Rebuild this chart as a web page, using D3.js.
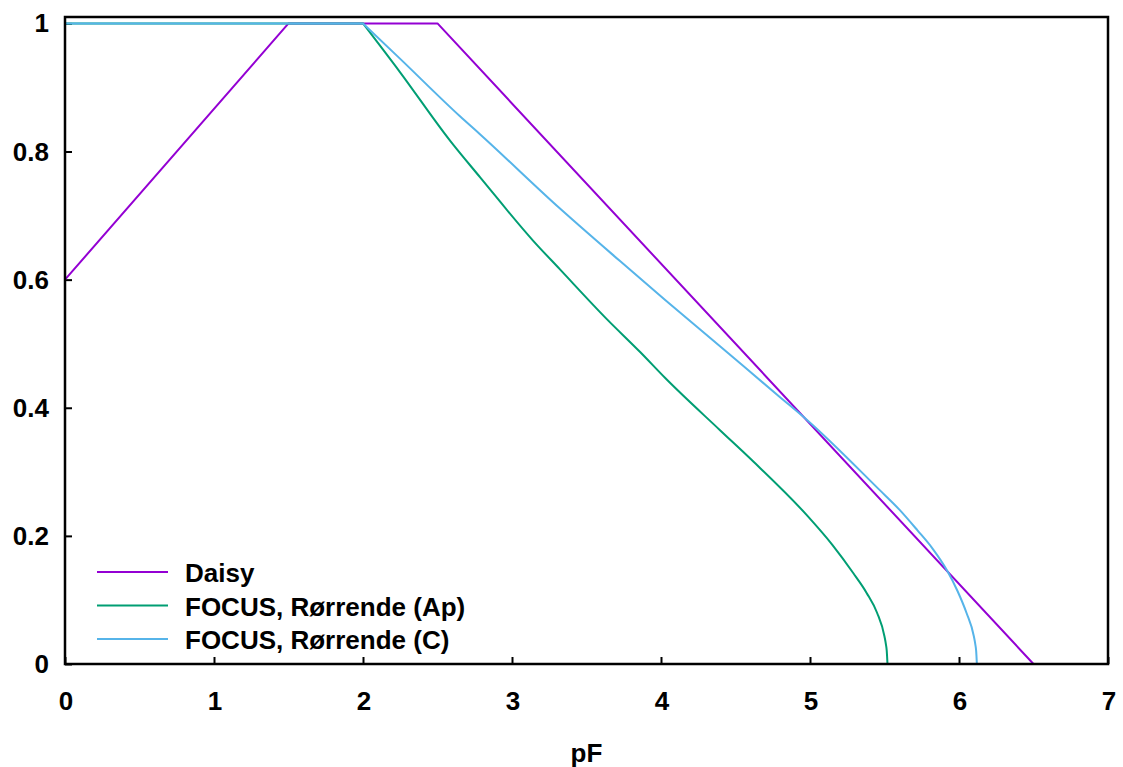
<!DOCTYPE html>
<html lang="en">
	<head>
		<meta charset="utf-8">
		<title>pF reduction curves</title>
		<script type="text/javascript" src="https://cdn.jsdelivr.net/npm/d3@7"></script>
		<style type="text/css">
			body { margin: 0; background: #fff; }
			text { font-family: "Liberation Sans", Arial, sans-serif; font-weight: bold; }
		</style>
	</head>
	<body>
		<script type="text/javascript">
			//Data
			var seriesNames = ["Daisy", "FOCUS, Rørrende (Ap)", "FOCUS, Rørrende (C)"];
			var seriesColors = ["#9400d3", "#009e73", "#56b4e9"];

			var daisyPF  = [0, 1.5, 2.5, 6.5];
			var daisyVal = [0.6, 1, 1, 0];

			//first two points are the flat part, the rest is the curve
			var apPF  = [0, 2.0, 2.248, 2.584, 2.785, 3.141, 3.322, 3.638, 3.86, 4.03, 4.396, 4.611, 4.98, 5.15, 5.29, 5.38, 5.45, 5.50, 5.51, 5.515, 5.52];
			var apVal = [1, 1.0, 0.924, 0.817, 0.760, 0.661, 0.616, 0.538, 0.487, 0.446, 0.365, 0.318, 0.232, 0.186, 0.142, 0.111, 0.080, 0.043, 0.030, 0.021, 0];

			var cPF  = [0, 2.0, 2.248, 2.651, 2.785, 3.322, 3.725, 4.03, 4.396, 4.799, 4.98, 5.47, 5.60, 5.72, 5.82, 5.92, 5.99, 6.05, 6.10, 6.11, 6.115, 6.12];
			var cVal = [1, 1.0, 0.945, 0.855, 0.827, 0.711, 0.629, 0.568, 0.496, 0.4165, 0.381, 0.271, 0.241, 0.209, 0.181, 0.146, 0.114, 0.080, 0.043, 0.030, 0.021, 0];

			var xTicks = [0, 1, 2, 3, 4, 5, 6, 7];
			var yTicks = [0, 0.2, 0.4, 0.6, 0.8, 1];

			//Width and height
			var w = 1123;
			var h = 767;
			var padL = 65, padR = 1108, padT = 17, padB = 664;

			var svg = d3.select("body")
						.append("svg")
						.attr("width", w)
						.attr("height", h);

			var x = d3.scaleLinear().domain([0, 7]).range([padL, padR]);
			var y = d3.scaleLinear().domain([0, 1.01]).range([padB, padT]);

			var series = [
				d3.zip(daisyPF, daisyVal),
				d3.zip(apPF, apVal),
				d3.zip(cPF, cVal)
			];

			//Axes with inward ticks
			var xAxis = d3.axisBottom(x).tickValues(xTicks).tickSize(-7).tickFormat("");
			var yAxis = d3.axisLeft(y).tickValues(yTicks).tickSize(-7).tickFormat("");

			svg.append("g")
			   .attr("transform", "translate(0," + padB + ")")
			   .call(xAxis)
			   .call(function(g) { g.select(".domain").remove(); })
			   .selectAll("line").attr("stroke", "#000").attr("stroke-width", 2);

			svg.append("g")
			   .attr("transform", "translate(" + padL + ",0)")
			   .call(yAxis)
			   .call(function(g) { g.select(".domain").remove(); })
			   .selectAll("line").attr("stroke", "#000").attr("stroke-width", 2);

			//Tick labels
			svg.selectAll("text.xt")
			   .data(xTicks)
			   .enter()
			   .append("text")
			   .attr("class", "xt")
			   .attr("x", function(d) { return x(d) + 1; })
			   .attr("y", 710)
			   .attr("text-anchor", "middle")
			   .attr("font-size", "26px")
			   .text(function(d) { return d; });

			svg.selectAll("text.yt")
			   .data(yTicks)
			   .enter()
			   .append("text")
			   .attr("class", "yt")
			   .attr("x", 49)
			   .attr("y", function(d) { return y(d) + 9; })
			   .attr("text-anchor", "end")
			   .attr("font-size", "26px")
			   .text(function(d) { return d; });

			svg.append("text")
			   .attr("x", (padL + padR) / 2)
			   .attr("y", 762)
			   .attr("text-anchor", "middle")
			   .attr("font-size", "26px")
			   .text("pF");

			//Series lines
			var line = d3.line()
						 .x(function(d) { return x(d[0]); })
						 .y(function(d) { return y(d[1]); });
			var smooth = d3.line()
						 .x(function(d) { return x(d[0]); })
						 .y(function(d) { return y(d[1]); })
						 .curve(d3.curveMonotoneX);

			svg.selectAll("path.series")
			   .data(series)
			   .enter()
			   .append("path")
			   .attr("class", "series")
			   .attr("fill", "none")
			   .attr("stroke", function(d, i) { return seriesColors[i]; })
			   .attr("stroke-width", 2)
			   .attr("stroke-linejoin", "round")
			   .attr("d", function(d, i) {
			   		if (i == 0) return line(d);
			   		//flat part straight, then the smooth fall
			   		return line(d.slice(0, 2)) + smooth(d.slice(1)).replace(/^M/, "L");
			   });

			//Legend
			var legend = svg.selectAll("g.legend")
							.data(seriesNames)
							.enter()
							.append("g")
							.attr("class", "legend")
							.attr("transform", function(d, i) { return "translate(0," + (572 + i * 33.5) + ")"; });
			legend.append("line")
				  .attr("x1", 97)
				  .attr("x2", 168)
				  .attr("stroke", function(d, i) { return seriesColors[i]; })
				  .attr("stroke-width", 2);
			legend.append("text")
				  .attr("x", 185)
				  .attr("y", 10)
				  .attr("font-size", "26px")
				  .text(function(d) { return d; });

			//Frame
			svg.append("rect")
			   .attr("x", padL)
			   .attr("y", padT)
			   .attr("width", padR - padL)
			   .attr("height", padB - padT)
			   .attr("fill", "none")
			   .attr("stroke", "#000")
			   .attr("stroke-width", 2.5);
		</script>
	</body>
</html>
